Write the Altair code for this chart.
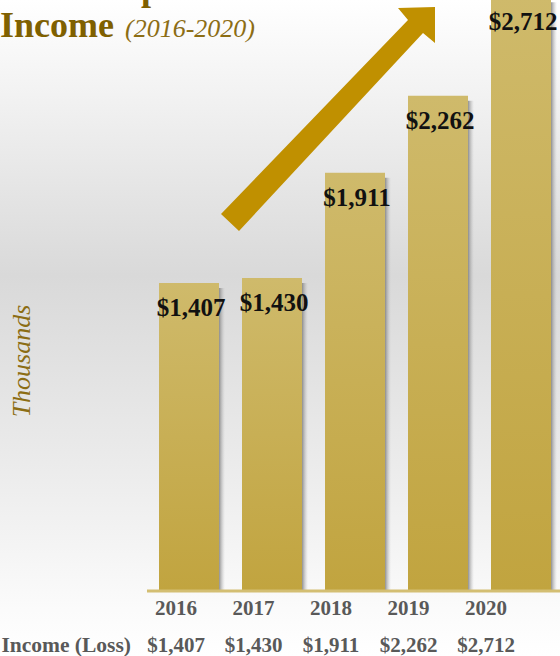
import altair as alt
import pandas as pd

YEARS = ["2016", "2017", "2018", "2019", "2020"]
INCOME = [1407, 1430, 1911, 2262, 2712]
VALUE_LABELS = ["$1,407", "$1,430", "$1,911", "$2,262", "$2,712"]
ROW_LABEL = "Income (Loss)"
TITLE_MAIN = "Income"
TITLE_SUB = "(2016-2020)"
TITLE_PREV_FRAGMENT = "p"
Y_TITLE = "Thousands"
# decorative arrow outline (pixel space)
ARROW = [[221, 214], [408, 20], [398, 8], [435, 7], [435, 43], [423, 33], [239, 231], [221, 214]]

SERIF = "Liberation Serif"
W, H = 560, 656

df = pd.DataFrame({"year": YEARS, "income": INCOME, "label": VALUE_LABELS})
one = pd.DataFrame({"k": [0]})

xs = alt.Scale(domain=YEARS, range=[147.5, 562.5], paddingInner=23 / 83, paddingOuter=23 / 166)
ys = alt.Scale(domain=[0, 2700], range=[591, 0])
xt = alt.Scale(type="point", domain=YEARS, range=[176, 486], padding=0)

bg = alt.Chart(one).mark_rect(
    fill=alt.Gradient(
        gradient="linear", x1=0, y1=0, x2=0, y2=1,
        stops=[
            alt.GradientStop(offset=0, color="#ffffff"),
            alt.GradientStop(offset=0.1, color="#f6f6f6"),
            alt.GradientStop(offset=0.42, color="#d9d9d9"),
            alt.GradientStop(offset=0.72, color="#ececec"),
            alt.GradientStop(offset=0.93, color="#fbfbfb"),
            alt.GradientStop(offset=1, color="#ffffff"),
        ],
    )
).encode(x=alt.value(0), x2=alt.value(W), y=alt.value(0), y2=alt.value(H))

shadow = alt.Chart(df).mark_bar(
    xOffset=6, yOffset=5,
    fill=alt.Gradient(
        gradient="linear", x1=0, y1=0, x2=1, y2=0,
        stops=[
            alt.GradientStop(offset=0, color="#666666"),
            alt.GradientStop(offset=0.88, color="#6e6e6e"),
            alt.GradientStop(offset=1, color="rgba(190,190,190,0)"),
        ],
    ),
).encode(
    x=alt.X("year:N", scale=xs, axis=None),
    y=alt.Y("income:Q", scale=ys, axis=None),
    y2=alt.datum(0),
)

bars = alt.Chart(df).mark_bar(
    fill=alt.Gradient(
        gradient="linear", x1=0, y1=0, x2=0, y2=1,
        stops=[
            alt.GradientStop(offset=0, color="#cfba6b"),
            alt.GradientStop(offset=1, color="#c1a43f"),
        ],
    )
).encode(
    x=alt.X("year:N", scale=xs, axis=None),
    y=alt.Y("income:Q", scale=ys, axis=None),
    y2=alt.datum(0),
)

baseline = alt.Chart(one).mark_rule(color="#d3be72", strokeWidth=3).encode(
    x=alt.value(147), x2=alt.value(W), y=alt.value(591)
)

arrow = alt.Chart(
    alt.Data(values=[{"type": "Feature", "properties": {},
                      "geometry": {"type": "Polygon", "coordinates": [ARROW]}}])
).mark_geoshape(fill="#c09000", strokeWidth=0).project(type="identity", scale=1, translate=[0, 0])

value_text = alt.Chart(df).mark_text(
    font=SERIF, fontWeight="bold", fontSize=25, color="#111111",
    align="center", baseline="alphabetic", dy=33, dx=2,
).encode(
    x=alt.X("year:N", scale=xs, axis=None),
    y=alt.Y("income:Q", scale=ys, axis=None),
    text="label:N",
)

year_text = alt.Chart(df).mark_text(
    font=SERIF, fontWeight="bold", fontSize=21, color="#595959",
    align="center", baseline="alphabetic",
).encode(
    x=alt.X("year:N", scale=xt, axis=None),
    y=alt.value(615),
    text="year:N",
)

row_text = alt.Chart(df).mark_text(
    font=SERIF, fontWeight="bold", fontSize=21, color="#595959",
    align="center", baseline="alphabetic",
).encode(
    x=alt.X("year:N", scale=xt, axis=None),
    y=alt.value(652),
    text="label:N",
)

row_label = alt.Chart(pd.DataFrame({"t": [ROW_LABEL]})).mark_text(
    font=SERIF, fontWeight="bold", fontSize=21.5, color="#595959",
    align="right", baseline="alphabetic",
).encode(x=alt.value(131), y=alt.value(652), text="t:N")

title_main = alt.Chart(pd.DataFrame({"t": [TITLE_MAIN]})).mark_text(
    font=SERIF, fontWeight="bold", fontSize=36, color="#7f6000",
    align="left", baseline="alphabetic",
).encode(x=alt.value(0), y=alt.value(37), text="t:N")

title_sub = alt.Chart(pd.DataFrame({"t": [TITLE_SUB]})).mark_text(
    font=SERIF, fontStyle="italic", fontSize=26, color="#8c6d14",
    align="left", baseline="alphabetic",
).encode(x=alt.value(125), y=alt.value(37), text="t:N")

title_prev = alt.Chart(pd.DataFrame({"t": [TITLE_PREV_FRAGMENT]})).mark_text(
    font=SERIF, fontWeight="bold", fontSize=36, color="#7f6000",
    align="left", baseline="alphabetic",
).encode(x=alt.value(141), y=alt.value(0), text="t:N")

y_title = alt.Chart(pd.DataFrame({"t": [Y_TITLE]})).mark_text(
    font=SERIF, fontStyle="italic", fontSize=26, color="#8c6d14",
    align="center", baseline="middle", angle=270,
).encode(x=alt.value(22), y=alt.value(361), text="t:N")

chart = alt.layer(
    bg, shadow, bars, baseline, arrow, value_text,
    year_text, row_text, row_label, title_main, title_sub, title_prev, y_title,
).resolve_scale(x="independent").properties(
    width=W, height=H, padding=0,
    autosize=alt.AutoSizeParams(type="none"),
    background="white",
).configure_view(stroke=None)

chart.save("out.html", embed_options={"renderer": "svg", "actions": False})
